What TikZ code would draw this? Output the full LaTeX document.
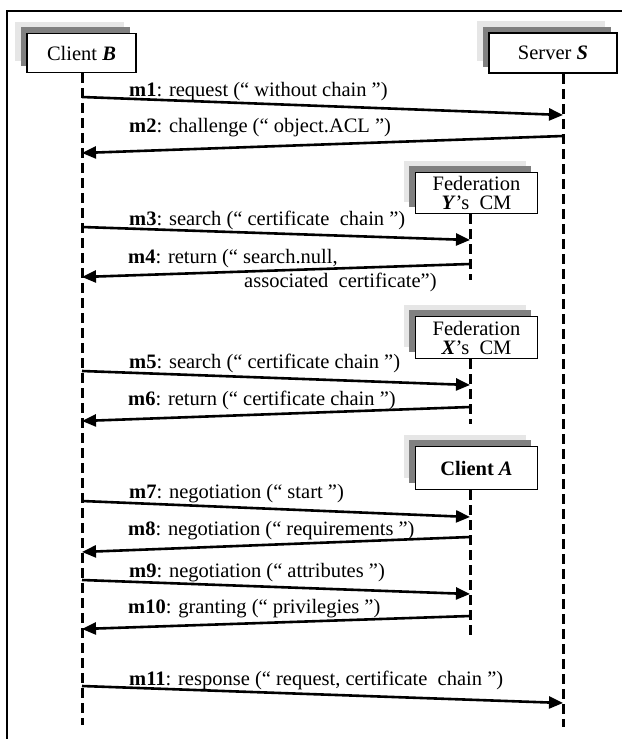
\documentclass[tikz,border=0pt]{standalone}
\usepackage{fontspec}
\setmainfont{Liberation Serif}
\usetikzlibrary{arrows.meta,shadows}

\definecolor{shadedark}{HTML}{808080}
\definecolor{shadelight}{HTML}{E6E6E6}

\tikzset{
  actor/.style={draw=black, line width=1.6pt, fill=white, inner sep=0pt,
    align=center, font=\fontsize{20.5}{19}\selectfont,
    general shadow={fill=shadelight, shadow xshift=-12pt, shadow yshift=12pt},
    general shadow={fill=shadedark, shadow xshift=-6.5pt, shadow yshift=6.5pt}},
  lifeline/.style={line width=3pt, dash pattern=on 10pt off 5pt},
  msg/.style={line width=2.6pt, -{Triangle[length=14pt,width=12pt]}},
  msglabel/.style={anchor=base west, inner sep=0pt, font=\fontsize{20.5}{24}\selectfont},
  frameline/.style={line width=2.4pt},
}

\begin{document}
\begin{tikzpicture}[x=1pt,y=-1pt]
\useasboundingbox (0,0) rectangle (622,739);

% outer frame (top and left edges)
\draw[frameline] (7,739) -- (7,11) -- (622,11);

% participants
\node[actor, minimum width=109pt, minimum height=39pt] (B) at (81.5,53) {Client \textbf{\textit{B}}};
\node[actor, minimum width=128pt, minimum height=40pt] (S) at (553,53) {Server \textbf{\textit{S}}};
\node[actor, minimum width=122pt, minimum height=41pt] (Y) at (476.5,193) {Federation\\\textbf{\textit{Y}}’s\ \ CM};
\node[actor, minimum width=122pt, minimum height=42pt] (X) at (476.5,337.5) {Federation\\\textbf{\textit{X}}’s\ \ CM};
\node[actor, minimum width=122pt, minimum height=43pt] (A) at (476.5,468) {\textbf{Client \textit{A}}};

% lifeline ends
\coordinate (Bend) at (82,725);
\coordinate (Send) at (563,727);
\coordinate (Yend) at (470,280);
\coordinate (Xend) at (470,424);
\coordinate (Aend) at (470,635);

\draw[lifeline] (Bend |- B.south) -- (Bend);
\draw[lifeline] (Send |- S.south) -- (Send);
\draw[lifeline] (Yend |- Y.south) -- (Yend);
\draw[lifeline] (Xend |- X.south) -- (Xend);
\draw[lifeline] (Aend |- A.south) -- (Aend);

% message end points
\coordinate (m1a) at (82,97);   \coordinate (m1b) at (563,115);
\coordinate (m2a) at (563,136); \coordinate (m2b) at (82,153);
\coordinate (m3a) at (82,227);  \coordinate (m3b) at (470,240);
\coordinate (m4a) at (470,264); \coordinate (m4b) at (82,277);
\coordinate (m5a) at (82,371);  \coordinate (m5b) at (470,385);
\coordinate (m6a) at (470,407); \coordinate (m6b) at (82,421);
\coordinate (m7a) at (82,501);  \coordinate (m7b) at (470,517);
\coordinate (m8a) at (470,537); \coordinate (m8b) at (82,552);
\coordinate (m9a) at (82,580);  \coordinate (m9b) at (470,594);
\coordinate (m10a) at (470,616); \coordinate (m10b) at (82,629);
\coordinate (m11a) at (82,686); \coordinate (m11b) at (563,703);

\foreach \m in {1,...,11} \draw[msg] (m\m a) -- (m\m b);

% message labels
\node[msglabel] (l1) at (129,96) {\textbf{m1}: request (“ without chain ”)};
\node[msglabel] (l2) at (129,132) {\textbf{m2}: challenge (“ object.ACL ”)};
\node[msglabel] (l3) at (129,225) {\textbf{m3}: search (“ certificate\ \ chain ”)};
\node[msglabel] (l4) at (128,263) {\textbf{m4}: return (“ search.null,};
\node[msglabel] (l4b) at (244,287) {associated\ \ certificate”)};
\node[msglabel] (l5) at (129,368) {\textbf{m5}: search (“ certificate chain ”)};
\node[msglabel] (l6) at (128,405) {\textbf{m6}: return (“ certificate chain ”)};
\node[msglabel] (l7) at (129,498) {\textbf{m7}: negotiation (“ start ”)};
\node[msglabel] (l8) at (128,535) {\textbf{m8}: negotiation (“ requirements ”)};
\node[msglabel] (l9) at (129,577) {\textbf{m9}: negotiation (“ attributes ”)};
\node[msglabel] (l10) at (128,613) {\textbf{m10}: granting (“ privilegies ”)};
\node[msglabel] (l11) at (129,685) {\textbf{m11}: response (“ request, certificate\ \ chain ”)};
\end{tikzpicture}
\end{document}
